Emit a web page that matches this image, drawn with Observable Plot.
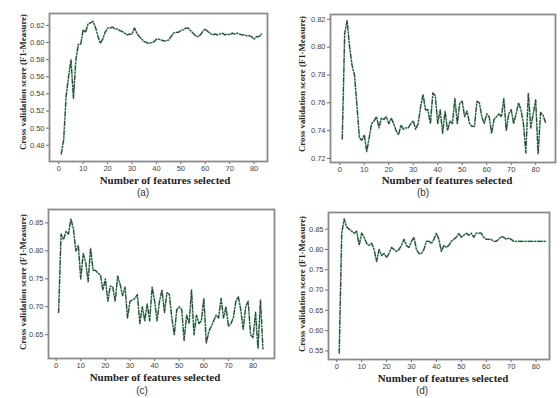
<!DOCTYPE html>
<html><head><meta charset="utf-8">
<script src="https://cdn.jsdelivr.net/npm/d3@7"></script>
<script src="https://cdn.jsdelivr.net/npm/@observablehq/plot@0.6"></script>
<style>
body{margin:0;background:#fff;}
#root{position:relative;width:560px;height:398px;overflow:hidden;background:#fff;}
.panel{position:absolute;}
.xl{position:absolute;font-family:"Liberation Serif","DejaVu Serif",serif;font-weight:bold;font-size:11px;color:#222;white-space:nowrap;transform:translateX(-50%);line-height:1;}
.yl{position:absolute;font-family:"Liberation Serif","DejaVu Serif",serif;font-weight:bold;font-size:8.8px;color:#222;white-space:nowrap;transform:translate(-50%,-50%) rotate(-90deg);line-height:1;}
.cap{position:absolute;font-family:"Liberation Sans","DejaVu Sans",sans-serif;font-size:10px;color:#333;transform:translateX(-50%);line-height:1;}
</style></head><body><div id="root"></div>
<script>
// ---- data ----
const scoresA = [0.470,0.486,0.537,0.560,0.580,0.535,0.580,0.598,0.598,0.615,
0.612,0.622,0.623,0.625,0.618,0.608,0.599,0.604,0.612,0.617,
0.617,0.618,0.616,0.616,0.614,0.613,0.611,0.609,0.610,0.610,
0.617,0.611,0.607,0.604,0.601,0.600,0.599,0.600,0.601,0.604,
0.604,0.603,0.602,0.602,0.603,0.607,0.611,0.612,0.612,0.614,
0.615,0.617,0.617,0.614,0.611,0.608,0.607,0.609,0.613,0.616,
0.613,0.611,0.609,0.610,0.609,0.610,0.611,0.609,0.610,0.609,
0.611,0.610,0.611,0.610,0.609,0.609,0.608,0.608,0.607,0.604,
0.607,0.607,0.610];
const scoresB = [0.734,0.810,0.819,0.800,0.787,0.780,0.758,0.735,0.733,0.737,
0.725,0.735,0.745,0.747,0.750,0.742,0.749,0.748,0.750,0.745,
0.749,0.745,0.740,0.737,0.744,0.741,0.742,0.742,0.745,0.747,
0.741,0.745,0.757,0.766,0.755,0.755,0.745,0.767,0.765,0.745,
0.755,0.738,0.754,0.740,0.747,0.745,0.763,0.745,0.760,0.761,
0.750,0.754,0.745,0.743,0.743,0.761,0.760,0.750,0.745,0.752,
0.750,0.738,0.748,0.750,0.752,0.750,0.763,0.740,0.752,0.755,
0.745,0.752,0.760,0.755,0.745,0.724,0.767,0.742,0.752,0.762,
0.723,0.753,0.751,0.746];
const scoresC = [0.690,0.830,0.820,0.835,0.830,0.857,0.840,0.800,0.810,0.750,
0.795,0.780,0.745,0.805,0.765,0.765,0.760,0.757,0.730,0.750,
0.710,0.737,0.735,0.710,0.755,0.740,0.720,0.735,0.680,0.710,
0.712,0.715,0.722,0.670,0.700,0.675,0.705,0.675,0.735,0.710,
0.675,0.710,0.730,0.690,0.725,0.722,0.680,0.650,0.695,0.700,
0.695,0.640,0.685,0.670,0.730,0.650,0.685,0.670,0.675,0.715,
0.635,0.655,0.665,0.675,0.685,0.680,0.715,0.680,0.700,0.665,
0.670,0.680,0.710,0.718,0.695,0.660,0.700,0.710,0.650,0.645,
0.690,0.625,0.712,0.625];
const scoresD = [0.545,0.840,0.875,0.855,0.850,0.845,0.840,0.845,0.810,0.840,
0.830,0.815,0.810,0.815,0.800,0.770,0.800,0.785,0.790,0.780,
0.790,0.805,0.800,0.795,0.800,0.810,0.825,0.810,0.805,0.820,
0.830,0.800,0.790,0.790,0.800,0.820,0.820,0.815,0.825,0.840,
0.825,0.795,0.810,0.805,0.810,0.820,0.825,0.830,0.840,0.830,
0.835,0.840,0.835,0.840,0.830,0.840,0.840,0.840,0.830,0.825,
0.825,0.825,0.820,0.820,0.825,0.832,0.830,0.825,0.828,0.825,
0.820,0.820,0.820,0.820,0.820,0.820,0.820,0.820,0.820,0.820,
0.820,0.820,0.820,0.820];
const xTicks = [0,10,20,30,40,50,60,70,80];
const yTicksA = [0.48,0.50,0.52,0.54,0.56,0.58,0.60,0.62];
const yTicksB = [0.72,0.74,0.76,0.78,0.80,0.82];
const yTicksC = [0.65,0.70,0.75,0.80,0.85];
const yTicksD = [0.55,0.60,0.65,0.70,0.75,0.80,0.85];
const captions = ["(a)","(b)","(c)","(d)"];
const xLabel = "Number of features selected";
const yLabel = "Cross validation score (F1-Measure)";

// ---- layout ----
const panels = [
  {s:scoresA, yt:yTicksA, left:0,   top:0,   ml:49, mr:13, mt:13, mb:14, xd:[-3.8,85.5], yd:[0.461,0.634], xlx:165, xly:175, capx:143, capy:188, ylx:23, yly:82},
  {s:scoresB, yt:yTicksB, left:280, top:0,   ml:50, mr:5,  mt:14, mb:13, xd:[-3.8,88.1], yd:[0.7171,0.8234], xlx:447, xly:175, capx:423, capy:188, ylx:302, yly:84},
  {s:scoresC, yt:yTicksC, left:0,   top:200, ml:48, mr:6,  mt:9,  mb:17, xd:[-3.1,88.7], yd:[0.6075,0.874], xlx:155, xly:372, capx:142, capy:386, ylx:23, yly:282},
  {s:scoresD, yt:yTicksD, left:280, top:200, ml:48, mr:11, mt:12, mb:16, xd:[-3.3,85.4], yd:[0.529,0.891], xlx:443, xly:373, capx:422, capy:386, ylx:302, yly:284}
];

const root = document.getElementById("root");
panels.forEach((p, i) => {
  const data = p.s.map((v, k) => ({n: k + 1, v}));
  const chart = Plot.plot({
    width: 280, height: 175,
    marginLeft: p.ml, marginRight: p.mr, marginTop: p.mt, marginBottom: p.mb,
    style: {fontFamily: "'Liberation Sans','DejaVu Sans',sans-serif", fontSize: "7.5px", color: "#444", background: "transparent"},
    x: {domain: p.xd},
    y: {domain: p.yd},
    marks: [
      Plot.line(data, {x: "n", y: "v", stroke: "#b3ebcb", strokeWidth: 2}),
      Plot.line(data, {x: "n", y: "v", stroke: "#34443c", strokeWidth: 1.3, strokeDasharray: "4.5,2,1,2"}),
      Plot.axisX({ticks: xTicks, tickSize: 3, tickPadding: 1.5, label: null, stroke: "#666"}),
      Plot.axisY({ticks: p.yt, tickSize: 3, tickPadding: 2, label: null, tickFormat: d3.format(".2f"), stroke: "#666"}),
      Plot.frame({stroke: "#8a8a8a", strokeWidth: 1.8})
    ]
  });
  chart.classList.add("panel");
  chart.style.left = p.left + "px";
  chart.style.top = p.top + "px";
  root.appendChild(chart);

  const xl = document.createElement("div");
  xl.className = "xl"; xl.textContent = xLabel;
  xl.style.left = p.xlx + "px"; xl.style.top = p.xly + "px";
  root.appendChild(xl);

  const yl = document.createElement("div");
  yl.className = "yl"; yl.textContent = yLabel;
  yl.style.left = p.ylx + "px"; yl.style.top = p.yly + "px";
  root.appendChild(yl);

  const cap = document.createElement("div");
  cap.className = "cap"; cap.textContent = captions[i];
  cap.style.left = p.capx + "px"; cap.style.top = p.capy + "px";
  root.appendChild(cap);
});
</script></body></html>
